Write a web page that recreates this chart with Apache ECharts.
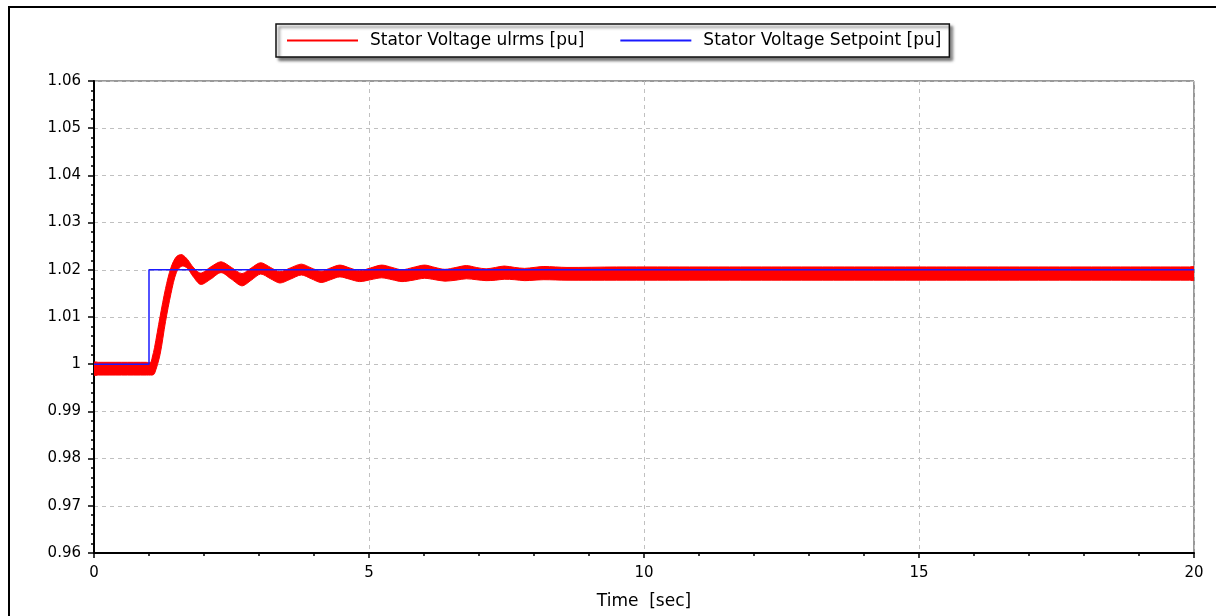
<!DOCTYPE html>
<html>
<head>
<meta charset="utf-8">
<script src="https://cdn.jsdelivr.net/npm/echarts@6/dist/echarts.min.js"></script>
<style>
  html, body { margin: 0; padding: 0; background: #fff; }
  #chart { width: 1216px; height: 616px; }
</style>
</head>
<body>
<div id="chart"></div>
<script>
// Stator RMS voltage: envelope of the ripple band (upper / lower edge), per time sample [s]
const timeSec = [0, 0.08, 0.5, 0.95, 1.03, 1.06, 1.10, 1.20, 1.30, 1.40, 1.50, 1.60, 1.70, 1.80, 1.94,
  2.12, 2.31, 2.50, 2.69, 2.86, 3.03, 3.21, 3.38, 3.57, 3.77, 3.95, 4.13, 4.30, 4.47,
  4.65, 4.83, 5.03, 5.23, 5.42, 5.60, 5.80, 6.01, 6.20, 6.38, 6.58, 6.77, 6.95, 7.13,
  7.30, 7.46, 7.65, 7.83, 8.00, 8.18, 8.60, 9.50, 11, 12.5, 14, 15.5, 17, 18.5, 19.92, 20];
const urmsUpper = [1.0004, 1.0004, 1.0004, 1.0004, 1.0004, 1.0015, 1.0035, 1.0100, 1.0160, 1.0205, 1.0228, 1.0232, 1.0222, 1.0206, 1.0193,
  1.0206, 1.0217, 1.0205, 1.0192, 1.0204, 1.0215, 1.0205, 1.0196, 1.0204, 1.0212, 1.0204, 1.0197, 1.0204, 1.0210,
  1.0204, 1.0198, 1.0204, 1.0210, 1.0205, 1.0200, 1.0205, 1.0210, 1.0205, 1.0201, 1.0205, 1.0209, 1.0205, 1.0202,
  1.0205, 1.0208, 1.0205, 1.0203, 1.0205, 1.0207, 1.0205, 1.0206, 1.0206, 1.0206, 1.0206, 1.0206, 1.0206, 1.0206, 1.0206, 1.0206];
const urmsLower = [0.9977, 0.9977, 0.9977, 0.9977, 0.9977, 0.9977, 0.9980, 1.0020, 1.0090, 1.0150, 1.0195, 1.0208, 1.0203, 1.0186, 1.0169,
  1.0180, 1.0194, 1.0180, 1.0166, 1.0178, 1.0191, 1.0181, 1.0172, 1.0180, 1.0189, 1.0181, 1.0173, 1.0179, 1.0185,
  1.0180, 1.0175, 1.0179, 1.0183, 1.0179, 1.0175, 1.0178, 1.0182, 1.0179, 1.0176, 1.0178, 1.0181, 1.0179, 1.0177,
  1.0178, 1.0180, 1.0179, 1.0177, 1.0178, 1.0179, 1.0178, 1.0178, 1.0178, 1.0178, 1.0178, 1.0178, 1.0178, 1.0178, 1.0178, 1.0178];

// Voltage setpoint: step from 1.00 to 1.02 pu at t = 1 s
const setpointTime = [0, 1, 1, 20];
const setpointValue = [1.0, 1.0, 1.02, 1.02];

const nameUrms = 'Stator Voltage ulrms [pu]';
const nameSetpoint = 'Stator Voltage Setpoint [pu]';

const setpointPts = setpointTime.map((t, i) => [t, setpointValue[i]]);

const FONT = 'DejaVu Sans';
const RED = '#ff0000';
const BLUE = '#1a1aff';

// Filled ripple band: upper edge left-to-right, lower edge back right-to-left
function renderBand(params, api) {
  const upper = timeSec.map((t, i) => api.coord([t, urmsUpper[i]]));
  const lower = timeSec.map((t, i) => api.coord([t, urmsLower[i]])).reverse();
  return {
    type: 'polygon',
    shape: { points: upper.concat(lower), smooth: 0.3 },
    style: { fill: RED, stroke: RED, lineWidth: 1 }
  };
}

const chart = echarts.init(document.getElementById('chart'), null, { renderer: 'canvas' });

chart.setOption({
  animation: false,
  backgroundColor: '#ffffff',
  graphic: [{
    type: 'rect',
    shape: { x: 9, y: 7, width: 1230, height: 700 },
    style: { fill: 'none', stroke: '#000', lineWidth: 2 },
    silent: true,
    z: 0
  }],
  legend: {
    data: [nameUrms, nameSetpoint],
    left: 276,
    top: 24,
    padding: [8, 8, 8, 11],
    itemGap: 36,
    itemWidth: 71,
    itemHeight: 2,
    icon: 'rect',
    backgroundColor: '#fff',
    borderColor: '#111',
    borderWidth: 1.5,
    borderRadius: 0,
    shadowColor: 'rgba(0,0,0,0.55)',
    shadowBlur: 3,
    shadowOffsetX: 3,
    shadowOffsetY: 3,
    textStyle: { fontFamily: FONT, fontSize: 17, color: '#000', padding: [0, 0, 0, 7] },
    selectedMode: false
  },
  grid: {
    left: 94,
    right: 22,
    top: 81,
    bottom: 63,
    show: true,
    borderColor: '#333',
    borderWidth: 1,
    backgroundColor: 'transparent'
  },
  xAxis: {
    type: 'value',
    min: 0,
    max: 20,
    interval: 5,
    name: 'Time  [sec]',
    nameLocation: 'middle',
    nameGap: 40,
    nameTextStyle: { fontFamily: FONT, fontSize: 17, color: '#000' },
    axisLine: { show: true, onZero: false, lineStyle: { color: '#000', width: 2 } },
    axisTick: { show: true, length: 5, lineStyle: { color: '#000', width: 1.5 } },
    minorTick: { show: true, splitNumber: 5, length: 3, lineStyle: { color: '#000', width: 1.5 } },
    axisLabel: { fontFamily: FONT, fontSize: 15, color: '#000', margin: 13 },
    splitLine: { show: true, lineStyle: { color: '#c0c0c0', type: [4, 4], width: 1 } }
  },
  yAxis: {
    type: 'value',
    min: 0.96,
    max: 1.06,
    interval: 0.01,
    axisLine: { show: true, onZero: false, lineStyle: { color: '#000', width: 2 } },
    axisTick: { show: true, length: 6, lineStyle: { color: '#000', width: 1.5 } },
    minorTick: { show: true, splitNumber: 5, length: 3, lineStyle: { color: '#000', width: 1.5 } },
    axisLabel: {
      fontFamily: FONT, fontSize: 15, color: '#000', margin: 13,
      formatter: v => String(+v.toFixed(2))
    },
    splitLine: { show: true, lineStyle: { color: '#c0c0c0', type: [4, 4], width: 1 } }
  },
  series: [
    {
      name: nameUrms,
      type: 'custom',
      coordinateSystem: 'cartesian2d',
      data: [[timeSec[0], urmsLower[0]]],
      encode: { x: 0, y: 1 },
      renderItem: renderBand,
      clip: true,
      itemStyle: { color: RED },
      silent: true,
      z: 2
    },
    {
      name: nameSetpoint,
      type: 'line',
      data: setpointPts,
      symbol: 'none',
      lineStyle: { color: BLUE, width: 1.5 },
      itemStyle: { color: BLUE },
      silent: true,
      z: 3
    }
  ]
});
</script>
</body>
</html>
